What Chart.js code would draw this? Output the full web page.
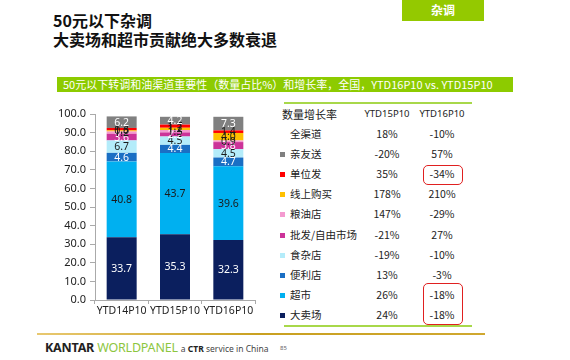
<!DOCTYPE html>
<html><head><meta charset="utf-8">
<script src="https://cdn.jsdelivr.net/npm/chart.js@4/dist/chart.umd.min.js"></script>
<style>
html,body{margin:0;padding:0;background:#fff;width:570px;height:360px;overflow:hidden;font-family:"Noto Sans CJK SC","Noto Sans",sans-serif;}
.abs{position:absolute;white-space:nowrap;}
#t1,#t2{left:53px;font-size:16px;font-weight:bold;color:#111;line-height:18px;}
#t1{top:11px;} #t2{top:30px;}
#tag{left:402px;top:0;width:82px;height:21px;background:#94c900;color:#fff;font-weight:bold;font-size:12px;text-align:center;line-height:20px;}
#banner{left:57px;top:77px;width:456px;height:15px;background:#8dcb00;color:#fff;font-size:11px;line-height:15px;padding-left:6px;box-sizing:border-box;}
#chartbox{position:absolute;left:30px;top:100px;width:240px;height:230px;}
.cell{font-size:10.5px;color:#222;line-height:14px;}
.sq{width:5px;height:5px;}
.rbox{border:1.5px solid #e02020;border-radius:5px;box-sizing:border-box;}
#foot{left:37px;top:333px;width:448px;height:2px;background:linear-gradient(90deg,#e8c870,#c9a020,#d0a830);}
</style></head>
<body>
<div class="abs" id="t1">50元以下杂调</div>
<div class="abs" id="t2">大卖场和超市贡献绝大多数衰退</div>
<div class="abs" id="tag">杂调</div>
<div class="abs" id="banner">50元以下转调和油渠道重要性（数量占比%）和增长率，全国，YTD16P10 vs. YTD15P10</div>
<div id="chartbox"><canvas id="c"></canvas></div>
<div id="table"></div>
<div class="abs" id="foot"></div>
<div class="abs" style="left:45px;top:341px;font-family:'Noto Sans',sans-serif;font-size:12.5px;line-height:14px;font-weight:bold;letter-spacing:-0.2px;color:#222;">KANTAR <span style="color:#8dc63f;font-weight:normal;">WORLDPANEL</span> <span style="font-size:8.5px;font-weight:normal;color:#444;letter-spacing:0">a <b style="color:#222">CTR</b> service in China</span></div>
<div class="abs" style="left:280px;top:344px;font-size:6px;color:#666;font-family:'Noto Sans',sans-serif;">85</div>
<script>
const categories = ['YTD14P10','YTD15P10','YTD16P10'];
const channels = ['大卖场','超市','便利店','食杂店','批发/自由市场','粮油店','线上购买','单位发','亲友送'];
const hypermarket = [33.7, 35.3, 32.3];
const supermarket = [40.8, 43.7, 39.6];
const convenience = [4.6, 4.4, 4.7];
const grocery = [6.7, 4.5, 4.5];
const wholesale = [3.6, 2.2, 3.8];
const grainOil = [1.2, 1.3, 0.9];
const online = [0.6, 1.2, 4.0];
const workUnit = [1.3, 1.7, 1.4];
const gift = [6.2, 4.2, 7.3];
const yTicks = [0,10,20,30,40,50,60,70,80,90,100];

const rowNames = ['全渠道','亲友送','单位发','线上购买','粮油店','批发/自由市场','食杂店','便利店','超市','大卖场'];
const growth15 = ['18%','-20%','35%','178%','147%','-21%','-19%','13%','26%','24%'];
const growth16 = ['-10%','57%','-34%','210%','-29%','27%','-10%','-3%','-18%','-18%'];

const colors = ['#0b1f5e','#00b0f0','#1a6fc4','#b4ecfa','#cc3399','#f49ad0','#ffc000','#ff0000','#808080'];
const labelColors = ['#fff','#1a1a1a','#fff','#1a1a1a','#fff','#1a1a1a','#1a1a1a','#1a1a1a','#fff'];
const seriesList = [hypermarket, supermarket, convenience, grocery, wholesale, grainOil, online, workUnit, gift];

// Table
const tbl = document.getElementById('table');
const colorByName = {};
channels.forEach((n,i)=>colorByName[n]=colors[i]);
function addDiv(cls, style, text){const d=document.createElement('div');d.className='abs '+cls;d.setAttribute('style',style);if(text!==undefined)d.textContent=text;tbl.appendChild(d);return d;}
addDiv('', 'left:284px;top:102px;width:188px;height:1.5px;background:#a8d84a;');
addDiv('', 'left:284px;top:325px;width:188px;height:1.5px;background:#a8d84a;');
addDiv('cell','left:282px;top:107px;font-size:11px;','数量增长率');
addDiv('cell','left:362px;top:107px;width:50px;text-align:center;font-family:Noto Sans,sans-serif;font-size:9.5px;','YTD15P10');
addDiv('cell','left:417px;top:107px;width:50px;text-align:center;font-family:Noto Sans,sans-serif;font-size:9.5px;','YTD16P10');
rowNames.forEach((n,i)=>{
  const y = 127 + i*20.1;
  if(colorByName[n]) addDiv('sq','left:280px;top:'+(y+5)+'px;background:'+colorByName[n]+';');
  addDiv('cell','left:290px;top:'+y+'px;', n);
  addDiv('cell','left:362px;top:'+y+'px;width:50px;text-align:center;', growth15[i]);
  addDiv('cell','left:417px;top:'+y+'px;width:50px;text-align:center;', growth16[i]);
});
addDiv('rbox','left:423px;top:165px;width:40px;height:20px;');
addDiv('rbox','left:423px;top:283px;width:40px;height:42px;');

const barLabels = {
  id:'barLabels',
  afterDatasetsDraw(chart){
    const ctx = chart.ctx;
    ctx.save();
    ctx.font = '10.5px "Noto Sans", sans-serif';
    ctx.textAlign='center'; ctx.textBaseline='middle';
    chart.data.datasets.forEach((ds,di)=>{
      const meta = chart.getDatasetMeta(di);
      meta.data.forEach((el,i)=>{
        const v = ds.data[i];
        const p = el.getProps(['x','y','base'],true);
        ctx.fillStyle = labelColors[di];
        ctx.fillText(v.toFixed(1), p.x, (p.y+p.base)/2+0.5);
      });
    });
    ctx.restore();
  }
};

new Chart(document.getElementById('c'), {
  type:'bar',
  data:{
    labels:categories,
    datasets: seriesList.map((s,i)=>({label:channels[i], data:s, backgroundColor:colors[i], borderWidth:0, barPercentage:0.5625, categoryPercentage:1}))
  },
  options:{
    responsive:true, maintainAspectRatio:false, animation:false,
    layout:{padding:{left:15,right:15,top:14,bottom:0}},
    plugins:{legend:{display:false},tooltip:{enabled:false}},
    scales:{
      x:{stacked:true,
         grid:{drawOnChartArea:false,drawTicks:true,tickLength:4,color:'#aaa'},
         border:{color:'#aaa'},
         ticks:{font:{size:10.5,family:'Noto Sans'},color:'#222',padding:1,maxRotation:0,minRotation:0,autoSkip:false},
         afterFit(s){s.height=30;}
      },
      y:{stacked:true,min:0,max:100,
         afterBuildTicks(s){s.ticks=yTicks.map(v=>({value:v}));},
         grid:{drawOnChartArea:false,drawTicks:true,tickLength:5,color:'#aaa'},
         border:{color:'#aaa'},
         ticks:{font:{size:11,family:'Noto Sans'},color:'#222',padding:4,callback:v=>Number(v).toFixed(1)},
         afterFit(s){s.width=50;}
      }
    }
  },
  plugins:[barLabels]
});
</script>
</body></html>
